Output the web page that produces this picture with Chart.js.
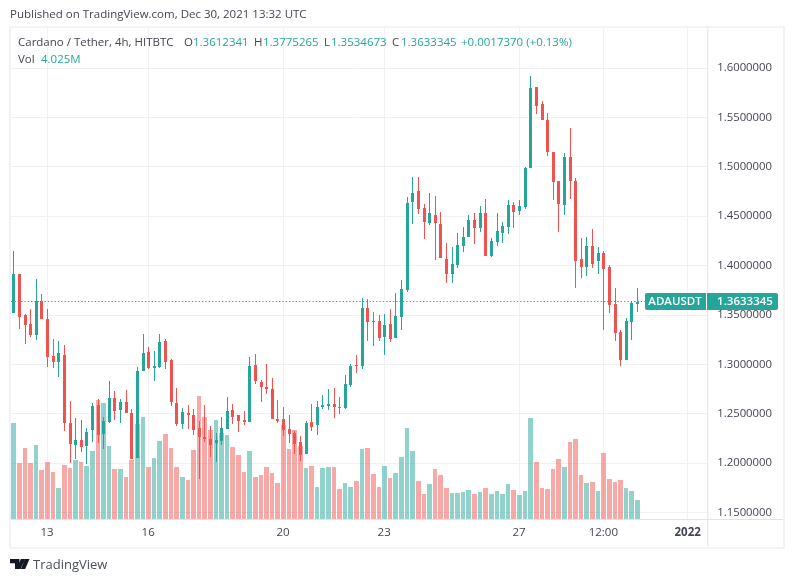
<!DOCTYPE html>
<html>
<head>
<meta charset="utf-8">
<title>ADAUSDT</title>
<script src="https://cdn.jsdelivr.net/npm/chart.js@4"></script>
<style>
  html, body { margin: 0; background: #fff; }
  #wrap { position: relative; width: 793px; height: 582px; overflow: hidden; font-family: "Open Sans", sans-serif; color: #434651; }
  #frame { position: absolute; left: 9px; top: 26px; width: 772px; height: 519px; border: 2px solid #f0f3fa; }
  canvas { position: absolute; left: 0; top: 0; }
  .t { position: absolute; font-size: 11.5px; line-height: 14px; white-space: nowrap; }
  .up { color: #26a69a; }
  #logo { position: absolute; left: 10px; top: 559px; }
</style>
</head>
<body>
<div id="wrap">
  <div id="frame"></div>
  <canvas id="chart" width="793" height="582"></canvas>
  <span class="t" style="left:10px;top:7px">Published on TradingView.com, Dec 30, 2021 13:32 UTC</span>
  <span class="t" style="left:18px;top:35px">Cardano / Tether, 4h, HITBTC</span>
  <span class="t" style="left:184px;top:35px">O</span><span class="t up" style="left:193px;top:35px">1.3612341</span>
  <span class="t" style="left:254px;top:35px">H</span><span class="t up" style="left:263px;top:35px">1.3775265</span>
  <span class="t" style="left:324px;top:35px">L</span><span class="t up" style="left:331px;top:35px">1.3534673</span>
  <span class="t" style="left:392px;top:35px">C</span><span class="t up" style="left:401px;top:35px">1.3633345</span>
  <span class="t up" style="left:461px;top:35px">+0.0017370 (+0.13%)</span>
  <span class="t" style="left:18px;top:52px">Vol</span><span class="t up" style="left:41px;top:52px">4.025M</span>
  <svg id="logo" width="20" height="11" viewBox="0 0 20 11">
    <path d="M0 0H9.5V10H5V4.2H0Z M11 0H15L10.5 10H7Z" fill="#131722"/>
    <circle cx="12.3" cy="2" r="2" fill="#131722"/>
    <path d="M14.8 0H19.5L15.2 10H10.8Z" fill="#131722"/>
  </svg>
  <span class="t" style="left:33px;top:557px;font-size:13px;color:#4a4e58">TradingView</span>
</div>
<script>
// ═══ DATA ═══ 4h candles, volume in millions
const openPrices = [
  1.3521,1.3912,1.3498,1.3407,1.3296,1.3639,1.3457,1.3083,1.3026,1.3093,
  1.2406,1.2187,1.2234,1.2177,1.2339,1.2588,1.2298,1.2416,1.2659,1.2537,
  1.2618,1.2507,1.2052,1.2932,1.3124,1.2962,1.2972,1.3235,1.3048,1.2614,
  1.2401,1.2513,1.2492,1.2361,1.2270,1.2250,1.2209,1.2230,1.2351,1.2543,
  1.2492,1.2442,1.2422,1.2998,1.2826,1.2775,1.2755,1.2452,1.2452,1.2351,
  1.2310,1.2219,1.2098,1.2422,1.2391,1.2573,1.2583,1.2604,1.2570,1.2560,
  1.2793,1.2996,1.2986,1.3574,1.3442,1.3442,1.3280,1.3411,1.3269,1.3482,
  1.3756,1.4648,1.4760,1.4588,1.4436,1.4517,1.4425,1.4071,1.3918,1.4010,
  1.4202,1.4294,1.4466,1.4385,1.4537,1.4101,1.4243,1.4332,1.4393,1.4615,
  1.4554,1.4595,1.4989,1.5808,1.5636,1.5474,1.5151,1.4858,1.4615,1.5100,
  1.4858,1.4069,1.3988,1.4200,1.4049,1.4130,1.3988,1.3614,1.3331,1.3048,
  1.3432,1.3612341
];
const highPrices = [
  1.4145,1.3912,1.3508,1.3559,1.3862,1.3710,1.3559,1.3255,1.3235,1.3195,
  1.2628,1.2457,1.2436,1.2355,1.2608,1.2649,1.2467,1.2831,1.2729,1.2649,
  1.2740,1.2548,1.2972,1.3306,1.3174,1.3134,1.3306,1.3255,1.3059,1.2765,
  1.2563,1.2593,1.2553,1.2432,1.2593,1.2381,1.2310,1.2472,1.2674,1.2604,
  1.2492,1.2533,1.3079,1.3109,1.2846,1.3008,1.2866,1.2644,1.2573,1.2492,
  1.2331,1.2280,1.2432,1.2604,1.2634,1.2695,1.2755,1.2765,1.2671,1.2894,
  1.3006,1.3097,1.3675,1.3665,1.3533,1.3503,1.3513,1.3564,1.3726,1.3858,
  1.4699,1.4902,1.4902,1.4628,1.4740,1.4709,1.4547,1.4233,1.4192,1.4334,
  1.4395,1.4517,1.4537,1.4608,1.4679,1.4283,1.4537,1.4443,1.4665,1.4645,
  1.4665,1.4999,1.5919,1.5808,1.5666,1.5545,1.5151,1.4858,1.5141,1.5393,
  1.4888,1.4281,1.4291,1.4372,1.4190,1.4150,1.4008,1.3776,1.3351,1.3472,
  1.3634,1.3775265
];
const lowPrices = [
  1.3521,1.3360,1.3208,1.3279,1.3248,1.3461,1.2976,1.2962,1.2874,1.2328,
  1.2005,1.2045,1.2116,1.1995,1.2217,1.2207,1.2147,1.2406,1.2436,1.2406,
  1.2507,1.2042,1.2052,1.2932,1.2952,1.2831,1.2962,1.2952,1.2577,1.2381,
  1.2351,1.2351,1.2290,1.1845,1.2219,1.2068,1.2017,1.2189,1.2351,1.2401,
  1.2320,1.2391,1.2422,1.2806,1.2624,1.2705,1.2452,1.2411,1.2280,1.2209,
  1.2098,1.2027,1.2098,1.2331,1.2290,1.2553,1.2543,1.2462,1.2499,1.2550,
  1.2773,1.2915,1.2955,1.3239,1.3188,1.3239,1.3097,1.3229,1.3269,1.3351,
  1.3736,1.4425,1.4527,1.4273,1.4415,1.4060,1.4081,1.3827,1.3827,1.3979,
  1.4141,1.4294,1.4223,1.4344,1.4101,1.4091,1.4202,1.4231,1.4322,1.4382,
  1.4514,1.4574,1.4989,1.5535,1.5474,1.5110,1.4665,1.4342,1.4514,1.4676,
  1.3776,1.3877,1.3897,1.3978,1.3917,1.3351,1.3523,1.3240,1.2987,1.3048,
  1.3250,1.3534673
];
const closePrices = [
  1.3912,1.3481,1.3400,1.3296,1.3639,1.3461,1.3077,1.3026,1.3114,1.2409,
  1.2197,1.2234,1.2167,1.2315,1.2578,1.2288,1.2426,1.2659,1.2527,1.2618,
  1.2507,1.2042,1.2932,1.3114,1.2962,1.2982,1.3225,1.3023,1.2617,1.2401,
  1.2523,1.2492,1.2341,1.2270,1.2250,1.2189,1.2240,1.2361,1.2533,1.2472,
  1.2432,1.2422,1.2988,1.2836,1.2775,1.2755,1.2452,1.2432,1.2341,1.2300,
  1.2199,1.2088,1.2411,1.2371,1.2573,1.2593,1.2604,1.2573,1.2560,1.2803,
  1.2986,1.2986,1.3574,1.3432,1.3432,1.3269,1.3401,1.3259,1.3493,1.3766,
  1.4638,1.4740,1.4578,1.4446,1.4537,1.4436,1.4081,1.3918,1.4020,1.4212,
  1.4294,1.4466,1.4385,1.4537,1.4101,1.4253,1.4354,1.4403,1.4615,1.4544,
  1.4605,1.4989,1.5798,1.5616,1.5474,1.5151,1.4847,1.4625,1.5100,1.4858,
  1.4049,1.3988,1.4200,1.4018,1.4130,1.3968,1.3604,1.3321,1.3048,1.3442,
  1.3624,1.3633345
];
const volumes = [
  20.4,11.9,15.1,11.9,15.7,10.4,12.1,10.0,6.6,11.5,
  10.8,12.5,12.1,11.2,14.4,25.2,24.6,15.5,10.6,10.6,
  8.9,12.5,20.1,21.6,11.0,12.9,16.5,18.0,15.1,11.0,
  8.9,8.3,14.6,26.1,21.6,18.9,21.0,18.2,17.8,15.3,
  13.6,10.0,14.4,8.9,9.3,11.0,9.8,7.6,19.9,14.8,
  18.9,15.5,10.8,11.2,6.8,10.8,11.0,11.0,6.4,7.6,
  6.8,8.1,14.8,15.1,9.5,6.8,11.2,8.7,9.8,13.2,
  19.3,14.4,8.1,5.3,7.4,10.6,9.3,6.6,5.5,5.5,
  5.7,6.2,5.3,5.7,6.6,5.3,5.9,5.3,7.4,6.2,
  5.1,5.9,21.4,12.1,6.6,6.4,10.6,12.7,11.0,16.3,
  17.0,9.3,7.6,7.8,5.9,14.0,8.5,7.8,8.3,6.6,
  5.9,4.025
];
const priceTicks = [1.15,1.2,1.25,1.3,1.35,1.4,1.45,1.5,1.55,1.6];
const timeTickIndex = [6,24,48,66,90,105,120];
const timeTickText = ["13","16","20","23","27","12:00","2022"];
const SLOTS = 124;            // bars plus the empty space on the right
const symbolName = "ADAUSDT";
const lastPrice = closePrices[closePrices.length - 1];

const UP = "#26a69a", DOWN = "#ef5350";
const UP_VOL = "rgba(38,166,154,0.5)", DOWN_VOL = "rgba(239,83,80,0.5)";
const GRID = "#f1f1f4", AXIS = "#e0e3eb", TEXT = "#434651";
const FONT = "'Open Sans'";

const labels = [];
for (let i = 0; i < SLOTS; i++) {
  const k = timeTickIndex.indexOf(i);
  labels.push(k >= 0 ? timeTickText[k] : "");
}
const isUp = closePrices.map((c, i) => c >= openPrices[i]);

// Snap bars to whole pixels so candles stay crisp at 5.6px spacing
const pixelSnapPlugin = {
  id: "pixelSnap",
  beforeDatasetsDraw(chart) {
    chart.data.datasets.forEach((ds, d) => {
      const bars = chart.getDatasetMeta(d).data;
      const centers = bars.map(b => Math.round(b.x) + 0.5);
      bars.forEach((b, i) => {
        b.y = Math.round(b.y);
        b.base = Math.round(b.base);
        if (b.y === b.base) b.base = b.y + 1;
        if (ds.label === "Vol") {
          const gap = i < bars.length - 1 ? centers[i + 1] - centers[i] : 6;
          const w = gap >= 6 ? 5 : 4;
          b.width = w;
          b.x = centers[i] - 2.5 + w / 2;
        } else {
          b.x = centers[i];
        }
      });
    });
  }
};

// Last price line, tag on the axis, and the axis lines past the plot
const lastPricePlugin = {
  id: "lastPrice",
  afterDraw(chart) {
    const { ctx, chartArea: a, scales } = chart;
    const y = Math.floor(scales.y.getPixelForValue(lastPrice)) + 0.5;
    ctx.save();
    ctx.strokeStyle = AXIS;
    ctx.lineWidth = 1;
    ctx.beginPath();
    ctx.moveTo(a.right + 0.5, a.top); ctx.lineTo(a.right + 0.5, scales.x.bottom);
    ctx.moveTo(a.left, a.bottom + 0.5); ctx.lineTo(scales.y.right, a.bottom + 0.5);
    ctx.stroke();

    ctx.strokeStyle = UP;
    ctx.setLineDash([1.3, 2.05]);
    ctx.beginPath();
    ctx.moveTo(Math.round(a.left), y); ctx.lineTo(a.right, y);
    ctx.stroke();
    ctx.setLineDash([]);

    ctx.fillStyle = UP;
    ctx.beginPath();
    ctx.roundRect(645, y - 8.5, 61, 17, [2, 0, 0, 2]);
    ctx.roundRect(707, y - 8.5, 71, 17, [0, 2, 2, 0]);
    ctx.fill();
    ctx.fillStyle = "#fff";
    ctx.font = "600 11.5px " + FONT;
    ctx.textAlign = "center";
    ctx.textBaseline = "middle";
    ctx.fillText(symbolName, 675, y + 0.5);
    ctx.fillText(lastPrice.toFixed(7), 745, y + 0.5);
    ctx.restore();
  }
};

new Chart(document.getElementById("chart"), {
  type: "bar",
  data: {
    labels: labels,
    datasets: [
      {
        label: "Body",
        data: openPrices.map((o, i) => [o, closePrices[i]]),
        backgroundColor: isUp.map(u => u ? UP : DOWN),
        barThickness: 3,
        maxBarThickness: 3,
        inflateAmount: 0,
        grouped: false,
        order: 1
      },
      {
        label: "Wick",
        data: lowPrices.map((l, i) => [l, highPrices[i]]),
        backgroundColor: isUp.map(u => u ? UP : DOWN),
        barThickness: 1,
        maxBarThickness: 1,
        inflateAmount: 0,
        grouped: false,
        order: 2
      },
      {
        label: "Vol",
        data: volumes,
        yAxisID: "vol",
        backgroundColor: isUp.map(u => u ? UP_VOL : DOWN_VOL),
        barThickness: 5,
        maxBarThickness: 5,
        inflateAmount: 0,
        grouped: false,
        order: 3
      }
    ]
  },
  options: {
    responsive: false,
    animation: false,
    layout: { padding: { left: 10.5, top: 27, right: 10, bottom: 36 } },
    plugins: { legend: { display: false }, title: { display: false }, tooltip: { enabled: false } },
    scales: {
      x: {
        offset: true,
        grid: { color: GRID, offset: false, drawTicks: false },
        border: { display: false },
        afterBuildTicks: s => { s.ticks = s.ticks.filter(t => labels[t.value] !== ""); },
        afterFit: s => { s.height = 27; },
        ticks: {
          autoSkip: false,
          maxRotation: 0,
          padding: 7,
          color: TEXT,
          font: ctx => ({ size: 11.5, family: FONT, weight: ctx.tick && ctx.tick.label === "2022" ? "bold" : "normal" })
        }
      },
      y: {
        position: "right",
        min: 1.1436,
        max: 1.6415,
        grid: { color: GRID, drawTicks: false },
        border: { display: false },
        afterBuildTicks: s => { s.ticks = priceTicks.map(v => ({ value: v })); },
        afterFit: s => { s.width = 75.7; },
        ticks: {
          padding: 10,
          color: TEXT,
          font: { size: 11.3, family: FONT },
          callback: v => v.toFixed(7)
        }
      },
      vol: { display: false, position: "left", min: 0, max: 104.2 }
    }
  },
  plugins: [pixelSnapPlugin, lastPricePlugin]
});
</script>
</body>
</html>
